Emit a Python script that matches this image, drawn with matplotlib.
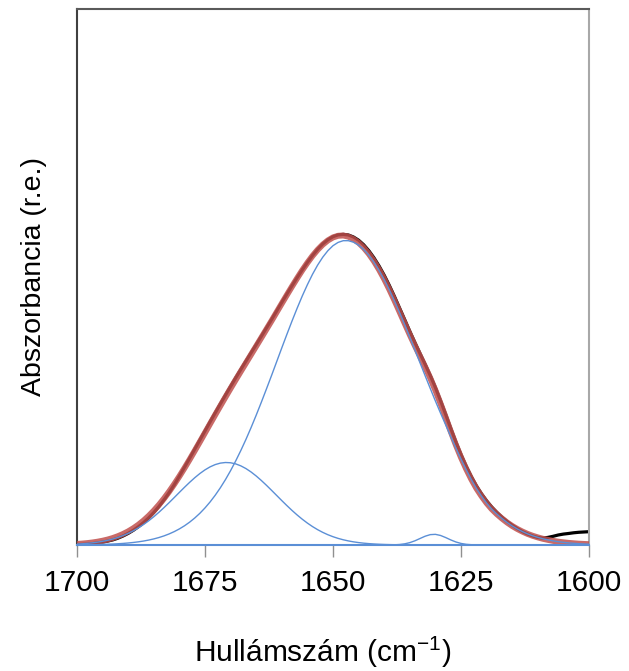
import numpy as np
import matplotlib.pyplot as plt

plt.rcParams['font.family'] = ['Liberation Sans', 'DejaVu Sans']
plt.rcParams['mathtext.fontset'] = 'custom'
plt.rcParams['mathtext.rm'] = 'Liberation Sans'
plt.rcParams['mathtext.it'] = 'Liberation Sans'

# hullámszám (cm-1), 1700 -> 1600, 1 cm-1 lépés
wavenumber = [1700, 1699, 1698, 1697, 1696, 1695, 1694, 1693, 1692, 1691,
              1690, 1689, 1688, 1687, 1686, 1685, 1684, 1683, 1682, 1681,
              1680, 1679, 1678, 1677, 1676, 1675, 1674, 1673, 1672, 1671,
              1670, 1669, 1668, 1667, 1666, 1665, 1664, 1663, 1662, 1661,
              1660, 1659, 1658, 1657, 1656, 1655, 1654, 1653, 1652, 1651,
              1650, 1649, 1648, 1647, 1646, 1645, 1644, 1643, 1642, 1641,
              1640, 1639, 1638, 1637, 1636, 1635, 1634, 1633, 1632, 1631,
              1630, 1629, 1628, 1627, 1626, 1625, 1624, 1623, 1622, 1621,
              1620, 1619, 1618, 1617, 1616, 1615, 1614, 1613, 1612, 1611,
              1610, 1609, 1608, 1607, 1606, 1605, 1604, 1603, 1602, 1601,
              1600]

# mért spektrum (fekete)
measured = [0.4, 0.6, 0.9, 1.4, 2.1, 2.9, 3.9, 5.1, 6.8, 9.0,
            11.6, 14.7, 18.3, 22.4, 27.1, 32.5, 38.5, 45.2, 52.4, 60.3,
            68.9, 77.8, 86.7, 95.8, 104.9, 114.0, 123.1, 132.1, 141.0, 149.8,
            158.5, 167.1, 175.5, 183.8, 192.1, 200.3, 208.6, 217.0, 225.4, 234.0,
            242.6, 251.0, 259.3, 267.4, 275.2, 282.6, 289.5, 295.7, 301.0, 305.2,
            308.3, 310.1, 310.6, 310.0, 308.0, 304.8, 300.2, 294.3, 287.2, 279.0,
            269.8, 259.6, 248.6, 237.0, 225.4, 213.7, 202.4, 191.4, 180.6, 169.4,
            157.4, 144.3, 130.6, 116.6, 103.0, 90.4, 78.9, 68.5, 59.2, 51.2,
            44.2, 38.0, 32.6, 27.8, 23.5, 19.8, 16.4, 13.4, 11.0, 9.0,
            7.5, 6.9, 7.6, 8.7, 10.0, 10.9, 11.5, 12.2, 12.7, 13.0,
            13.3]

# illesztett sávok (kék)
band_1648 = [0.14, 0.19, 0.25, 0.33, 0.44, 0.57, 0.74, 0.95, 1.23, 1.57,
             1.99, 2.52, 3.16, 3.95, 4.91, 6.07, 7.45, 9.10, 11.07, 13.38,
             16.08, 19.21, 22.83, 26.99, 31.70, 37.06, 43.06, 49.78, 57.21, 65.41,
             74.36, 84.07, 94.49, 105.6, 117.4, 129.8, 142.7, 156.0, 169.5, 183.3,
             197.1, 210.7, 224.0, 236.8, 249.0, 260.3, 270.7, 279.9, 287.8, 294.3,
             299.3, 302.6, 304.3, 304.3, 302.8, 299.9, 295.5, 289.8, 282.8, 274.6,
             265.4, 255.2, 244.2, 232.5, 220.4, 207.8, 195.0, 182.1, 169.2, 156.5,
             144.0, 131.9, 120.2, 108.4, 97.0, 86.0, 75.5, 65.6, 56.6, 48.9,
             41.9, 35.9, 30.9, 26.5, 22.5, 19.0, 16.0, 13.4, 11.1, 9.2,
             7.6, 6.2, 5.1, 4.1, 3.3, 2.66, 2.1, 1.68, 1.3, 1.04,
             0.8]

band_1671 = [0.89, 1.21, 1.62, 2.15, 2.83, 3.67, 4.72, 6.01, 7.58, 9.44,
             11.63, 14.19, 17.13, 20.46, 24.17, 28.26, 32.69, 37.41, 42.36, 47.47,
             52.62, 57.72, 62.63, 67.26, 71.46, 75.12, 78.13, 80.41, 81.87, 82.48,
             82.22, 81.09, 79.13, 76.41, 73.0, 69.0, 64.53, 59.71, 54.67, 49.53,
             44.39, 39.37, 34.54, 29.99, 25.77, 21.90, 18.41, 15.32, 12.61, 10.27,
             8.28, 6.60, 5.21, 4.07, 3.14, 2.40, 1.82, 1.36, 1.01, 0.74,
             0.53, 0.38, 0.27, 0.19, 0.13, 0.09, 0.06, 0.04, 0.03, 0.02,
             0.01, 0, 0, 0, 0, 0, 0, 0, 0, 0,
             0, 0, 0, 0, 0, 0, 0, 0, 0, 0,
             0, 0, 0, 0, 0, 0, 0, 0, 0, 0,
             0]

band_1630 = [0, 0, 0, 0, 0, 0, 0, 0, 0, 0,
             0, 0, 0, 0, 0, 0, 0, 0, 0, 0,
             0, 0, 0, 0, 0, 0, 0, 0, 0, 0,
             0, 0, 0, 0, 0, 0, 0, 0, 0, 0,
             0, 0, 0, 0, 0, 0, 0, 0, 0, 0,
             0, 0, 0, 0, 0, 0, 0, 0, 0, 0,
             0.02, 0.06, 0.18, 0.49, 1.15, 2.35, 4.18, 6.49, 8.78, 10.35,
             10.64, 9.53, 7.45, 5.07, 3.01, 1.56, 0.70, 0.28, 0.10, 0.03,
             0, 0, 0, 0, 0, 0, 0, 0, 0, 0,
             0, 0, 0, 0, 0, 0, 0, 0, 0, 0,
             0]

# az illesztés a sávok összege (piros)
fitted = np.array(band_1648) + np.array(band_1671) + np.array(band_1630)

blue = '#5B8FD6'
fs = 21.5

fig = plt.figure(figsize=(6.29, 6.71), dpi=100)
ax = fig.add_axes([0.1224, 0.1878, 0.8140, 0.7988])

ax.plot(wavenumber, measured, color='black', lw=2.3, zorder=2)
ax.plot(wavenumber, fitted, color='#C0504D', lw=4.3, alpha=0.85, zorder=3)
for band in [band_1648, band_1671, band_1630]:
    ax.plot(wavenumber, band, color=blue, lw=1.0, zorder=4)

ax.set_xlim(1700, 1600)
ax.set_ylim(0, 536)
ax.set_xticks([1700, 1675, 1650, 1625, 1600])
ax.set_yticks([])
ax.tick_params(axis='x', direction='out', length=8.5, width=1, color='#909090',
               labelsize=fs, pad=9)

ax.spines['left'].set_color('#404040')
ax.spines['left'].set_linewidth(1.5)
ax.spines['top'].set_color('#5a5a5a')
ax.spines['top'].set_linewidth(1.5)
ax.spines['right'].set_color('#a8a8a8')
ax.spines['right'].set_linewidth(1.5)
ax.spines['bottom'].set_color(blue)
ax.spines['bottom'].set_linewidth(1.5)
ax.spines['bottom'].set_zorder(5)

ax.set_xlabel('Hullámszám (cm$^{-1}$)', fontsize=fs)
ax.set_ylabel('Abszorbancia (r.e.)', fontsize=20.5)
ax.xaxis.set_label_coords(0.48, -0.168)
ax.yaxis.set_label_coords(-0.058, 0.5)

fig.savefig('out.png', dpi=100)
